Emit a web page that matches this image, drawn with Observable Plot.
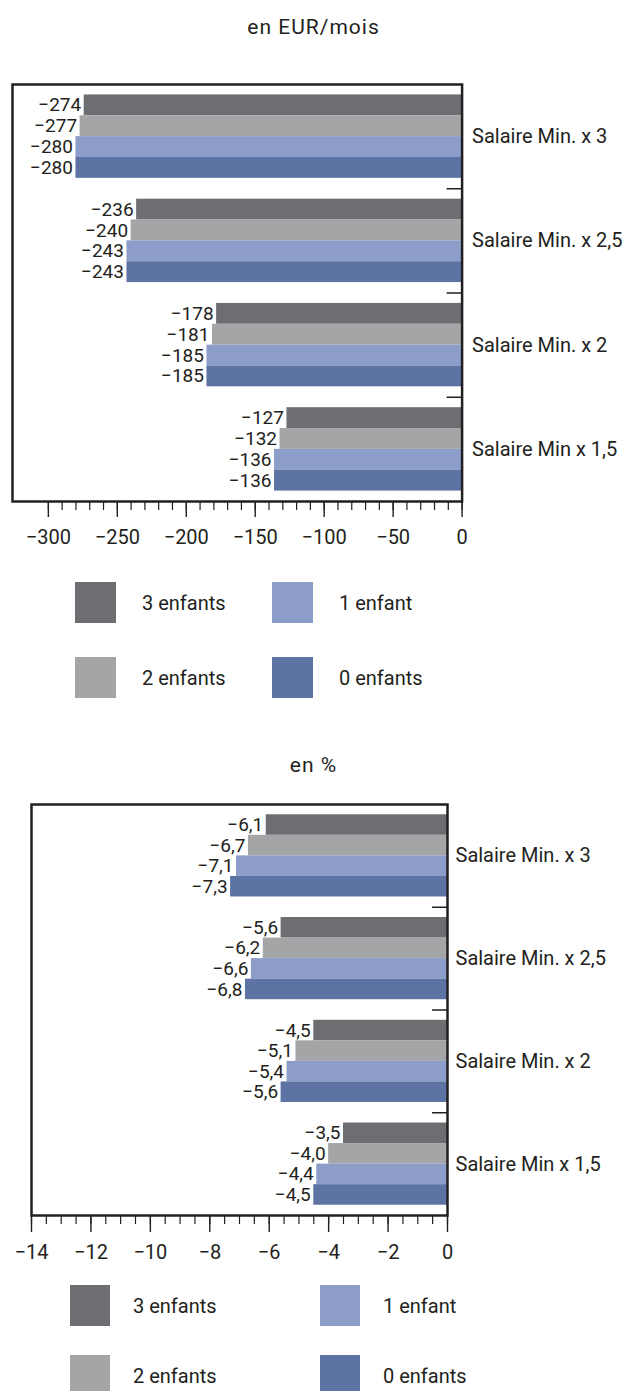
<!DOCTYPE html>
<html><head><meta charset="utf-8">
<script src="https://cdn.jsdelivr.net/npm/d3@7"></script>
<script src="https://cdn.jsdelivr.net/npm/@observablehq/plot@0.6"></script>
<style>
body{margin:0;background:#fff;font-family:Roboto,sans-serif;color:#231f20;}
#root{position:relative;width:627px;height:1391px;overflow:hidden;background:#fff;}
.plotbox{position:absolute;left:0;}
.title{position:absolute;left:0;width:627px;text-align:center;font-size:21px;letter-spacing:1px;line-height:1;z-index:2;}
.item{position:absolute;display:flex;align-items:center;z-index:2;}
.item .sw{flex:none;}
.item span{font-size:20px;line-height:1;white-space:nowrap;}
</style></head>
<body><div id="root"></div>
<script>
// ---------- data ----------
const categories = ["Salaire Min. x 3", "Salaire Min. x 2,5", "Salaire Min. x 2", "Salaire Min x 1,5"];
const series = ["3 enfants", "2 enfants", "1 enfant", "0 enfants"];
const seriesColors = ["#6d6e72", "#a4a5a7", "#8c9dc9", "#5c73a4"];

// EUR / mois, one array per series (order = categories)
const eur3enfants = [-274, -236, -178, -127];
const eur2enfants = [-277, -240, -181, -132];
const eur1enfant  = [-280, -243, -185, -136];
const eur0enfants = [-280, -243, -185, -136];

// en %
const pct3enfants = [-6.1, -5.6, -4.5, -3.5];
const pct2enfants = [-6.7, -6.2, -5.1, -4.0];
const pct1enfant  = [-7.1, -6.6, -5.4, -4.4];
const pct0enfants = [-7.3, -6.8, -5.6, -4.5];

const eurMajorTicks = [-300, -250, -200, -150, -100, -50, 0];
const eurMinorTicks = d3.range(-300, 1, 10);
const pctMajorTicks = [-14, -12, -10, -8, -6, -4, -2, 0];
const pctMinorTicks = d3.range(-14, 0.01, 0.5);

const legendRows = [["3 enfants", "1 enfant"], ["2 enfants", "0 enfants"]];

// ---------- helpers ----------
const ink = "#231f20";
const minus = v => (v < 0 ? "\u2212" : "");
const fmtInt = v => minus(v) + Math.abs(v);
const fmtPct = v => minus(v) + Math.abs(v).toFixed(1).replace(".", ",");

function makeChart({values, xMin, major, minor, fmtValue, height, mt, mb, ml, mr, catDx, tickSize}) {
  const rows = categories.flatMap((c, i) => series.map((s, j) => ({cat: c, series: s, key: c + "|" + s, value: values[j][i]})));
  const gaps = categories.slice(1).map((c, i) => "gap" + i);
  const yDomain = categories.flatMap((c, i) => (i ? ["gap" + (i - 1)] : []).concat(series.map(s => c + "|" + s)));
  const innerW = 627 - ml - mr;
  const innerH = height - mt - mb;
  const ppu = innerW / (0 - xMin);
  const step = innerH / (yDomain.length + 1);
  return Plot.plot({
    width: 627, height,
    marginTop: mt, marginBottom: mb, marginLeft: ml, marginRight: mr,
    style: {fontFamily: "Roboto", fontSize: "20px", color: ink, background: "transparent", overflow: "visible"},
    x: {domain: [xMin, 0], label: null},
    y: {domain: yDomain, axis: null, paddingInner: 0, paddingOuter: 0.5, round: false},
    color: {domain: series, range: seriesColors},
    marks: [
      Plot.barX(rows, {x1: 0, x2: "value", y: "key", fill: "series"}),
      Plot.text(rows, {x: "value", y: "key", text: d => fmtValue(d.value), textAnchor: "end", dx: -3, fill: ink, fontSize: 19}),
      Plot.ruleY(gaps, {y: d => d, x1: -15 / ppu, x2: 0, stroke: ink, strokeWidth: 1.5}),
      Plot.text(categories, {x: 0, y: c => c + "|" + series[1], dy: step / 2, dx: catDx, textAnchor: "start", fill: ink}),
      Plot.frame({stroke: ink, strokeWidth: 2.5}),
      Plot.axisX({ticks: major, tickSize: tickSize, tickPadding: 12, tickFormat: fmtInt, strokeWidth: 1.4, label: null}),
      Plot.axisX({ticks: minor, tickSize: 9, tickFormat: () => "", strokeWidth: 1.2, label: null})
    ]
  });
}

const root = document.getElementById("root");

function place(el, top) {
  const box = document.createElement("div");
  box.className = "plotbox";
  box.style.top = top + "px";
  box.appendChild(el);
  root.appendChild(box);
}

place(makeChart({
  values: [eur3enfants, eur2enfants, eur1enfant, eur0enfants],
  xMin: -326, major: eurMajorTicks, minor: eurMinorTicks, fmtValue: fmtInt,
  height: 570, mt: 84, mb: 69, ml: 12, mr: 165.4, catDx: 10, tickSize: 16
}), 0);

place(makeChart({
  values: [pct3enfants, pct2enfants, pct1enfant, pct0enfants],
  xMin: -14, major: pctMajorTicks, minor: pctMinorTicks, fmtValue: fmtPct,
  height: 530, mt: 64, mb: 55, ml: 31, mr: 180, catDx: 8, tickSize: 17
}), 740);

function title(text, top) {
  const t = document.createElement("div");
  t.className = "title";
  t.textContent = text;
  t.style.top = top + "px";
  root.appendChild(t);
}
title("en EUR/mois", 17);
title("en %", 755);

function legend(left0, left1, tops, sw, gap) {
  legendRows.forEach((row, r) => {
    row.forEach((name, c) => {
      const it = document.createElement("div");
      it.className = "item";
      it.style.left = (c ? left1 : left0) + "px";
      it.style.top = tops[r] + "px";
      const s = document.createElement("div");
      s.className = "sw";
      s.style.width = sw[0] + "px";
      s.style.height = sw[1] + "px";
      s.style.background = seriesColors[series.indexOf(name)];
      s.style.marginRight = gap + "px";
      const l = document.createElement("span");
      l.textContent = name;
      it.appendChild(s);
      it.appendChild(l);
      root.appendChild(it);
    });
  });
}
legend(75, 272, [582, 657], [41, 41], 26);
legend(70, 320, [1285, 1355], [40, 41], 23);
</script>
</body></html>
